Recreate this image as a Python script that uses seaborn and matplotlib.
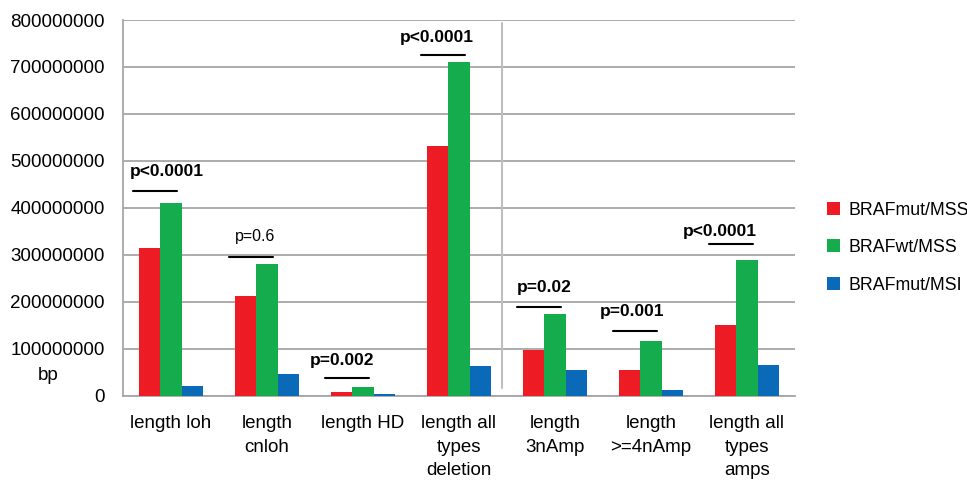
import matplotlib
matplotlib.use("Agg")
import matplotlib.pyplot as plt
import seaborn as sns
import pandas as pd
import numpy as np
from matplotlib.patches import Patch

# Categories and series values (bp)
categories = [
    "length loh",
    "length\ncnloh",
    "length HD",
    "length all\ntypes\ndeletion",
    "length\n3nAmp",
    "length\n>=4nAmp",
    "length all\ntypes\namps",
]
groups = ["BRAFmut/MSS", "BRAFwt/MSS", "BRAFmut/MSI"]
braf_mut_mss = [315e6, 213e6, 7e6, 532e6, 97e6, 55e6, 151e6]
braf_wt_mss = [411e6, 281e6, 18e6, 711e6, 174e6, 116e6, 289e6]
braf_mut_msi = [21e6, 46e6, 3e6, 64e6, 54e6, 12e6, 65e6]

# p-values comparing BRAFmut/MSS vs BRAFwt/MSS
p_labels = ["p<0.0001", "p=0.6", "p=0.002", "p<0.0001", "p=0.02", "p=0.001", "p<0.0001"]
p_bold = [True, False, True, True, True, True, True]

y_ticks = np.arange(0, 800e6 + 1, 100e6)
y_tick_labels = [f"{int(v)}" for v in y_ticks]

colors = ["#ED1C24", "#14AC4C", "#0B6AB7"]

df = pd.DataFrame({
    "category": np.repeat(categories, 3),
    "group": groups * len(categories),
    "value": np.ravel(np.column_stack([braf_mut_mss, braf_wt_mss, braf_mut_msi])),
})

sns.set_style("white")
plt.rcParams["font.family"] = ["Liberation Sans", "DejaVu Sans"]
plt.rcParams["text.color"] = "black"
plt.rcParams["xtick.color"] = "black"
plt.rcParams["ytick.color"] = "black"

fig = plt.figure(figsize=(9.67, 4.8), dpi=100)
ax = fig.add_axes([0.1272, 0.1756, 0.6949, 0.7827])

sns.barplot(data=df, x="category", y="value", hue="group", order=categories,
            hue_order=groups, palette=colors, saturation=1, width=0.667,
            gap=0, ax=ax, legend=False, errorbar=None, zorder=3,
            linewidth=0, edgecolor="none")

grid_c = "#A6A6A6"
ax.set_ylim(0, 800e6)
ax.set_xlim(-0.5, len(categories) - 0.5)
ax.set_yticks(y_ticks)
ax.set_yticklabels(y_tick_labels, fontsize=13.5)
ax.yaxis.grid(True, color=grid_c, linewidth=1.3, zorder=0)
ax.set_axisbelow(True)
ax.tick_params(axis="y", length=5, width=1.2, color=grid_c, pad=8, labelcolor="black")

ax.set_xticks(range(len(categories)))
ax.set_xticklabels(categories, fontsize=13.5, linespacing=1.5, va="top")
ax.set_xticks(np.arange(-0.5, len(categories), 1), minor=True)
ax.tick_params(axis="x", which="major", length=0, pad=14, labelcolor="black")
ax.tick_params(axis="x", which="minor", length=6, width=1.2, color=grid_c)
ax.set_xlabel("")
ax.set_ylabel("")

for s in ["top", "right"]:
    ax.spines[s].set_visible(False)
for s in ["left", "bottom"]:
    ax.spines[s].set_color(grid_c)
    ax.spines[s].set_linewidth(1.3)

# separator between deletion and amplification groups
ax.plot([3.445, 3.445], [16e6, 793e6], color="#BFBFBF", linewidth=1.5, zorder=1,
        clip_on=False)

# significance bars over red/green pairs
line_y = [436e6, 295e6, 38e6, 725e6, 189e6, 138e6, 324e6]
text_y = [478e6, 338e6, 74e6, 762e6, 230e6, 179e6, 349e6]
text_dx = [-0.04, -0.12, -0.22, -0.23, -0.11, -0.20, -0.28]
for i, (lab, bold) in enumerate(zip(p_labels, p_bold)):
    ax.plot([i - 0.40, i + 0.06], [line_y[i], line_y[i]], color="black",
            linewidth=1.5, zorder=4)
    ax.text(i + text_dx[i], text_y[i], lab, ha="center", va="center",
            color="black", fontsize=12.5 if bold else 11.5,
            fontweight="bold" if bold else "normal", zorder=5)

# axis unit label, placed in pixel coordinates left of the axis
fig.text(48, 480 - 375.7, "bp", transform=None, fontsize=13.5, ha="center",
         va="center", color="black")

handles = [Patch(facecolor=c, edgecolor="none") for c in colors]
fig.legend(handles, groups, loc="center left", bbox_to_anchor=(0.855, 0.484),
           frameon=False, fontsize=12.8, handlelength=0.75, handleheight=0.75,
           handletextpad=0.45, labelspacing=1.15, borderaxespad=0,
           borderpad=0)

fig.savefig("out.png", dpi=100)
